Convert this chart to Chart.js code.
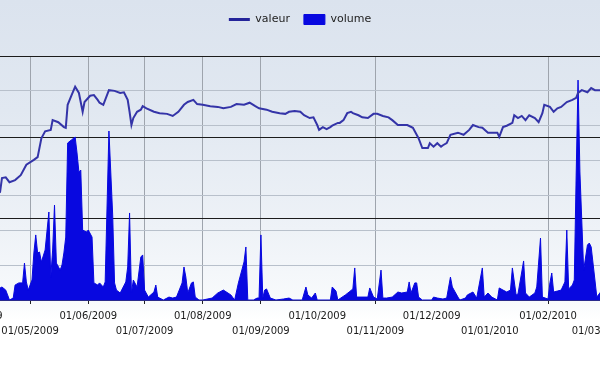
<!DOCTYPE html>
<html>
<head>
<meta charset="utf-8">
<script src="https://cdn.jsdelivr.net/npm/chart.js@4.4.0/dist/chart.umd.min.js"></script>
<style>
    html, body {
        margin: 0;
        padding: 0;
        width: 600px;
        height: 372px;
        overflow: hidden;
        background: linear-gradient(to bottom, #dbe3ee 0px, #e1e8f1 110px, #eef2f7 230px, #f8fafc 300px, #ffffff 320px);
    }
    #wrap {
        position: absolute;
        left: -60px;
        top: 0;
        width: 720px;
        height: 372px;
    }
</style>
</head>
<body>
<div id="wrap"><canvas id="chart"></canvas></div>
<script>
// valeur (cours)
const valueDates = [
    '2009-04-13', '2009-04-15', '2009-04-16', '2009-04-18', '2009-04-20', '2009-04-23', '2009-04-26', '2009-04-29', '2009-05-03', '2009-05-05',
    '2009-05-07', '2009-05-09', '2009-05-12', '2009-05-13', '2009-05-16', '2009-05-19', '2009-05-20', '2009-05-21', '2009-05-23', '2009-05-25',
    '2009-05-27', '2009-05-29', '2009-05-30', '2009-06-02', '2009-06-04', '2009-06-06', '2009-06-07', '2009-06-09', '2009-06-12', '2009-06-15',
    '2009-06-18', '2009-06-20', '2009-06-22', '2009-06-23', '2009-06-24', '2009-06-25', '2009-06-27', '2009-06-29', '2009-06-30', '2009-07-02',
    '2009-07-06', '2009-07-09', '2009-07-13', '2009-07-16', '2009-07-19', '2009-07-22', '2009-07-24', '2009-07-27', '2009-07-29', '2009-08-01',
    '2009-08-05', '2009-08-09', '2009-08-12', '2009-08-16', '2009-08-19', '2009-08-23', '2009-08-26', '2009-08-29', '2009-08-31', '2009-09-04',
    '2009-09-07', '2009-09-11', '2009-09-14', '2009-09-16', '2009-09-19', '2009-09-22', '2009-09-24', '2009-09-27', '2009-09-29', '2009-10-01',
    '2009-10-02', '2009-10-04', '2009-10-06', '2009-10-08', '2009-10-09', '2009-10-12', '2009-10-13', '2009-10-15', '2009-10-17', '2009-10-19',
    '2009-10-20', '2009-10-23', '2009-10-25', '2009-10-28', '2009-10-31', '2009-11-02', '2009-11-05', '2009-11-08', '2009-11-10', '2009-11-13',
    '2009-11-14', '2009-11-18', '2009-11-21', '2009-11-24', '2009-11-26', '2009-11-29', '2009-11-30', '2009-12-02', '2009-12-04', '2009-12-06',
    '2009-12-07', '2009-12-09', '2009-12-11', '2009-12-15', '2009-12-18', '2009-12-21', '2009-12-23', '2009-12-26', '2009-12-28', '2009-12-31',
    '2010-01-05', '2010-01-06', '2010-01-08', '2010-01-10', '2010-01-13', '2010-01-14', '2010-01-16', '2010-01-18', '2010-01-20', '2010-01-22',
    '2010-01-25', '2010-01-27', '2010-01-29', '2010-01-30', '2010-02-02', '2010-02-04', '2010-02-06', '2010-02-08', '2010-02-11', '2010-02-14',
    '2010-02-16', '2010-02-17', '2010-02-19', '2010-02-22', '2010-02-24', '2010-02-26', '2010-03-01', '2010-03-04'
];
const values = [
    15.1, 15.5, 17.5, 17.6, 16.9, 17.2, 17.9, 19.4, 20.1, 20.5,
    23.2, 24.2, 24.4, 25.8, 25.5, 24.8, 24.7, 28.0, 29.3, 30.6,
    29.7, 27.0, 28.4, 29.3, 29.4, 28.7, 28.3, 28.0, 30.1, 30.0,
    29.7, 29.8, 28.7, 27.0, 25.1, 26.1, 27.0, 27.3, 27.8, 27.5,
    27.0, 26.8, 26.7, 26.4, 27.0, 28.0, 28.4, 28.7, 28.1, 28.0,
    27.8, 27.7, 27.5, 27.7, 28.1, 28.0, 28.3, 27.8, 27.5, 27.3,
    27.0, 26.8, 26.7, 27.0, 27.1, 27.0, 26.5, 26.1, 26.2, 25.1,
    24.4, 24.8, 24.5, 24.8, 25.0, 25.4, 25.4, 25.8, 26.8, 27.0,
    26.8, 26.5, 26.2, 26.1, 26.7, 26.7, 26.4, 26.2, 25.8, 25.1,
    25.1, 25.1, 24.7, 23.2, 21.8, 21.8, 22.5, 22.0, 22.5, 22.0,
    22.2, 22.5, 23.7, 24.0, 23.7, 24.4, 25.1, 24.8, 24.7, 24.0,
    24.0, 23.4, 24.8, 25.0, 25.4, 26.5, 26.1, 26.4, 25.8, 26.5,
    26.1, 25.5, 26.8, 28.0, 27.7, 27.0, 27.5, 27.7, 28.4, 28.7,
    29.0, 29.7, 30.1, 29.8, 30.4, 30.1, 30.1, 30.1
];

// volume (milliers de titres)
const volumeDates = [
    '2009-04-13', '2009-04-15', '2009-04-16', '2009-04-18', '2009-04-19', '2009-04-20', '2009-04-22', '2009-04-23', '2009-04-25', '2009-04-27',
    '2009-04-28', '2009-04-29', '2009-04-30', '2009-05-02', '2009-05-03', '2009-05-04', '2009-05-05', '2009-05-06', '2009-05-07', '2009-05-09',
    '2009-05-11', '2009-05-12', '2009-05-13', '2009-05-14', '2009-05-15', '2009-05-17', '2009-05-18', '2009-05-19', '2009-05-20', '2009-05-21',
    '2009-05-23', '2009-05-25', '2009-05-26', '2009-05-27', '2009-05-28', '2009-05-29', '2009-05-31', '2009-06-01', '2009-06-03', '2009-06-04',
    '2009-06-06', '2009-06-07', '2009-06-09', '2009-06-10', '2009-06-12', '2009-06-14', '2009-06-15', '2009-06-16', '2009-06-18', '2009-06-21',
    '2009-06-22', '2009-06-23', '2009-06-24', '2009-06-25', '2009-06-27', '2009-06-29', '2009-06-30', '2009-07-01', '2009-07-03', '2009-07-06',
    '2009-07-07', '2009-07-08', '2009-07-09', '2009-07-11', '2009-07-14', '2009-07-16', '2009-07-18', '2009-07-21', '2009-07-22', '2009-07-23',
    '2009-07-24', '2009-07-26', '2009-07-27', '2009-07-28', '2009-07-30', '2009-08-01', '2009-08-06', '2009-08-09', '2009-08-10', '2009-08-12',
    '2009-08-16', '2009-08-18', '2009-08-20', '2009-08-23', '2009-08-24', '2009-08-25', '2009-08-28', '2009-08-30', '2009-08-31', '2009-09-01',
    '2009-09-02', '2009-09-03', '2009-09-04', '2009-09-06', '2009-09-09', '2009-09-13', '2009-09-16', '2009-09-18', '2009-09-23', '2009-09-25',
    '2009-09-26', '2009-09-28', '2009-09-30', '2009-10-01', '2009-10-08', '2009-10-09', '2009-10-11', '2009-10-12', '2009-10-16', '2009-10-18',
    '2009-10-20', '2009-10-21', '2009-10-22', '2009-10-28', '2009-10-29', '2009-10-31', '2009-11-02', '2009-11-04', '2009-11-05', '2009-11-07',
    '2009-11-10', '2009-11-13', '2009-11-15', '2009-11-18', '2009-11-19', '2009-11-20', '2009-11-22', '2009-11-23', '2009-11-24', '2009-11-26',
    '2009-12-01', '2009-12-02', '2009-12-04', '2009-12-07', '2009-12-09', '2009-12-11', '2009-12-12', '2009-12-15', '2009-12-16', '2009-12-19',
    '2009-12-20', '2009-12-23', '2009-12-25', '2009-12-28', '2009-12-29', '2009-12-31', '2010-01-02', '2010-01-05', '2010-01-06', '2010-01-08',
    '2010-01-10', '2010-01-12', '2010-01-13', '2010-01-15', '2010-01-16', '2010-01-19', '2010-01-20', '2010-01-22', '2010-01-25', '2010-01-26',
    '2010-01-28', '2010-01-29', '2010-02-01', '2010-02-02', '2010-02-03', '2010-02-04', '2010-02-06', '2010-02-08', '2010-02-10', '2010-02-11',
    '2010-02-12', '2010-02-14', '2010-02-15', '2010-02-16', '2010-02-17', '2010-02-18', '2010-02-20', '2010-02-22', '2010-02-23', '2010-02-24',
    '2010-02-26', '2010-02-27', '2010-03-01', '2010-03-04'
];
const volumes = [
    49, 74, 80, 61, 31, 0, 12, 92, 105, 105,
    227, 111, 61, 123, 289, 400, 289, 295, 234, 307,
    541, 141, 307, 584, 227, 184, 215, 289, 387, 965,
    984, 1002, 904, 787, 799, 430, 418, 430, 387, 105,
    92, 105, 80, 111, 1039, 523, 105, 61, 43, 111,
    203, 535, 43, 123, 80, 264, 277, 61, 18, 49,
    92, 18, 12, 0, 18, 12, 18, 105, 203, 141,
    43, 105, 111, 18, 0, 0, 12, 43, 49, 61,
    31, 0, 105, 234, 326, 0, 0, 12, 12, 400,
    12, 61, 68, 12, 0, 6, 12, 0, 0, 80,
    31, 12, 43, 0, 0, 80, 55, 0, 31, 49,
    68, 197, 18, 18, 74, 18, 6, 184, 12, 12,
    18, 49, 43, 49, 111, 43, 105, 105, 18, 0,
    0, 18, 12, 6, 12, 141, 80, 18, 0, 12,
    31, 49, 12, 197, 18, 43, 18, 0, 74, 61,
    49, 61, 197, 31, 37, 240, 43, 18, 43, 80,
    381, 18, 6, 105, 166, 49, 55, 61, 111, 430,
    68, 92, 123, 768, 1352, 787, 184, 338, 350, 326,
    123, 18, 49, 61
];

const tickLabels = [
    '01/04/2009', '01/05/2009', '01/06/2009', '01/07/2009', '01/08/2009', '01/09/2009',
    '01/10/2009', '01/11/2009', '01/12/2009', '01/01/2010', '01/02/2010', '01/03/2010'
];
// months that get a vertical grid line and a tick mark
const linedTicks = new Set(['01/04/2009', '01/05/2009', '01/06/2009', '01/07/2009', '01/08/2009', '01/09/2009', '01/11/2009', '01/02/2010']);

const toDay = iso => Date.UTC(+iso.slice(0, 4), +iso.slice(5, 7) - 1, +iso.slice(8, 10)) / 864e5;
const labelDay = lbl => toDay(lbl.slice(6) + '-' + lbl.slice(3, 5) + '-' + lbl.slice(0, 2));

// canvas is 720px wide, shifted 60px left of the page
const pxPerDay = 1.8768;
const xMin = toDay('2009-05-01') - 90 / pxPerDay;
const xMax = xMin + 720 / pxPerDay;

const legendGap = {
    id: 'legendGap',
    beforeInit(chart) {
        const fit = chart.legend.fit;
        chart.legend.fit = function () {
            fit.call(this);
            this.height += 21;
        };
    }
};

const tickShown = c => linedTicks.has(tickLabels[c.index]);

new Chart(document.getElementById('chart').getContext('2d'), {
    type: 'line',
    data: {
        datasets: [
            {
                label: 'valeur',
                data: valueDates.map((d, i) => ({ x: toDay(d), y: values[i] })),
                borderColor: '#3434a8',
                backgroundColor: '#3434a8',
                borderWidth: 2,
                pointRadius: 0,
                pointStyle: 'line',
                tension: 0,
                fill: false,
                yAxisID: 'y'
            },
            {
                label: 'volume',
                data: volumeDates.map((d, i) => ({ x: toDay(d), y: volumes[i] })),
                borderColor: '#0808e0',
                backgroundColor: '#0808e0',
                borderWidth: 1,
                pointRadius: 0,
                pointStyle: 'rect',
                tension: 0,
                fill: 'origin',
                yAxisID: 'yVol'
            }
        ]
    },
    options: {
        responsive: true,
        maintainAspectRatio: false,
        animation: false,
        layout: { padding: 0 },
        plugins: {
            tooltip: { enabled: false },
            legend: {
                position: 'top',
                labels: {
                    usePointStyle: true,
                    pointStyleWidth: 21,
                    boxHeight: 10,
                    padding: 14,
                    color: '#222',
                    font: { family: 'DejaVu Sans', size: 11 },
                    generateLabels: chart => Chart.defaults.plugins.legend.labels.generateLabels(chart)
                        .map(item => item.pointStyle === 'line' ? { ...item, lineWidth: 3, strokeStyle: '#24249a' } : item)
                }
            }
        },
        scales: {
            x: {
                type: 'linear',
                min: xMin,
                max: xMax,
                afterBuildTicks: scale => {
                    scale.ticks = tickLabels.map(l => ({ value: labelDay(l) }));
                },
                afterFit: scale => {
                    scale.height = 72;
                },
                ticks: {
                    autoSkip: false,
                    maxRotation: 0,
                    padding: 5,
                    color: '#1a1a1a',
                    font: { family: 'DejaVu Sans', size: 10, lineHeight: 1.5 },
                    callback: (value, index) => index % 2 ? ['', tickLabels[index]] : tickLabels[index]
                },
                grid: {
                    color: c => tickShown(c) ? '#9ea4ad' : 'rgba(0,0,0,0)',
                    tickColor: c => tickShown(c) ? '#222' : 'rgba(0,0,0,0)',
                    tickLength: 4
                },
                border: { color: '#2b2b8c', width: 1 }
            },
            y: {
                position: 'left',
                min: 0,
                max: 35,
                ticks: { display: false, stepSize: 5 },
                grid: { color: '#b8c0cb', drawTicks: false },
                border: { display: false }
            },
            yVol: {
                position: 'left',
                min: 0,
                max: 1500,
                ticks: { display: false, stepSize: 500 },
                grid: { color: '#1c1c1c', drawTicks: false },
                border: { display: false }
            }
        }
    },
    plugins: [legendGap]
});
</script>
</body>
</html>
